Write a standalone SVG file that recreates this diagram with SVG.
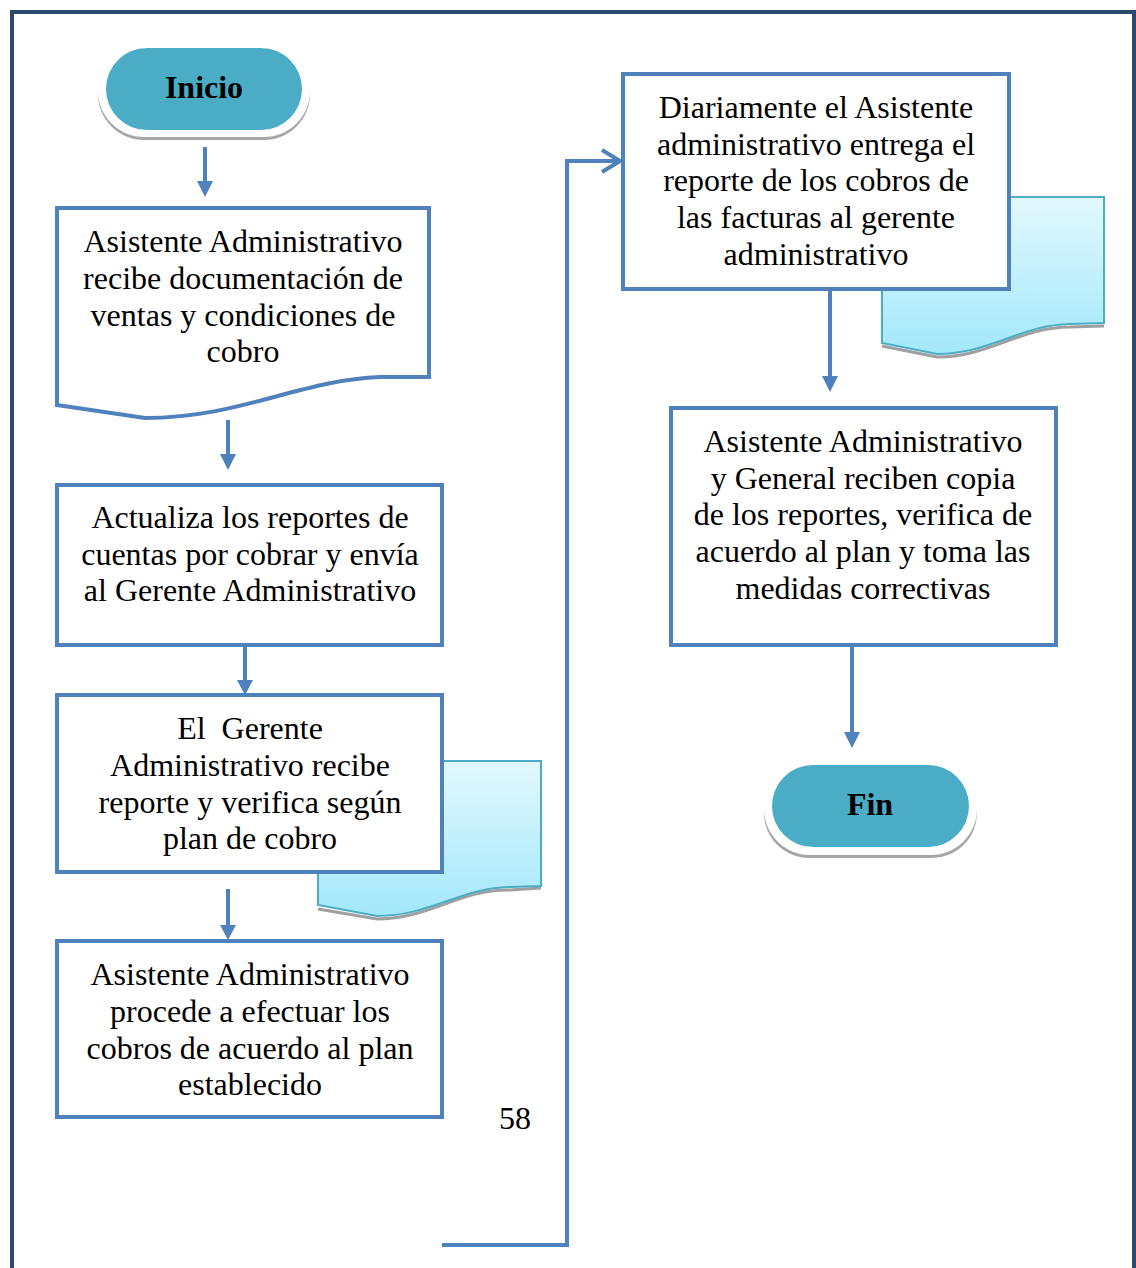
<svg xmlns="http://www.w3.org/2000/svg" width="1136" height="1268" viewBox="0 0 1136 1268">
<defs>
<style>
.t{font-family:"Liberation Serif","Times New Roman",serif;font-size:32px;fill:#000;text-anchor:middle}
.tb{font-family:"Liberation Serif","Times New Roman",serif;font-size:32px;font-weight:bold;fill:#000;text-anchor:middle}
.box{fill:#fff;stroke:#4f81bd;stroke-width:4}
.doc{fill:url(#cyan);stroke:#4bacc6;stroke-width:2}
.docsh{fill:none;stroke:#a0a0a0;stroke-width:3}
.ln{fill:none;stroke:#4f81bd;stroke-width:4}
.ah{fill:#4f81bd}
.term{fill:#4bacc6}
</style>
<linearGradient id="cyan" x1="0" y1="0" x2="0" y2="1">
<stop offset="0" stop-color="#e2f8fd"/>
<stop offset="1" stop-color="#a3e8fb"/>
</linearGradient>
</defs>
<rect x="12" y="12" width="1122" height="1300" fill="none" stroke="#2b4a6b" stroke-width="4"/>

<g id="inicio">
<rect x="98" y="48" width="212" height="92" rx="46" fill="#a6a6a6"/>
<rect x="98" y="44" width="212" height="93" rx="46" fill="#fff"/>
<rect x="106" y="48" width="196" height="82" rx="41" class="term"/>
<text x="204" y="98" class="tb">Inicio</text>
</g>

<g id="n1">
<path class="box" d="M57,208 L429,208 L429,377 L380,377 C300,380 240,418 145,418 L57,405 Z"/>
<text x="243" y="252" class="t">Asistente Administrativo</text>
<text x="243" y="289" class="t">recibe documentación de</text>
<text x="243" y="326" class="t">ventas y condiciones de</text>
<text x="243" y="362" class="t">cobro</text>
</g>

<g id="n2">
<rect class="box" x="57" y="485" width="385" height="160"/>
<text x="250" y="528" class="t">Actualiza los reportes de</text>
<text x="250" y="565" class="t">cuentas por cobrar y envía</text>
<text x="250" y="601" class="t">al Gerente Administrativo</text>
</g>

<g id="doc3">
<path class="docsh" d="M318,909 L377,919 C430,919 460,889 510,890 L541,888"/>
<path class="doc" d="M318,761 L541,761 L541,886 L510,887 C460,888 430,916 377,916 L318,905 Z"/>
</g>
<g id="n3">
<rect class="box" x="57" y="695" width="385" height="177"/>
<text x="250" y="739" class="t" xml:space="preserve">El  Gerente</text>
<text x="250" y="776" class="t">Administrativo recibe</text>
<text x="250" y="813" class="t">reporte y verifica según</text>
<text x="250" y="849" class="t">plan de cobro</text>
</g>

<g id="n4">
<rect class="box" x="57" y="941" width="385" height="176"/>
<text x="250" y="985" class="t">Asistente Administrativo</text>
<text x="250" y="1022" class="t">procede a efectuar los</text>
<text x="250" y="1059" class="t">cobros de acuerdo al plan</text>
<text x="250" y="1095" class="t">establecido</text>
</g>

<text x="515" y="1129" class="t">58</text>

<g id="doc5">
<path class="docsh" d="M882,346 L937,357 C990,357 1020,327 1070,327 L1104,326"/>
<path class="doc" d="M882,197 L1104,197 L1104,323 L1070,324 C1020,325 990,354 937,354 L882,343 Z"/>
</g>
<g id="n5">
<rect class="box" x="623" y="74" width="386" height="215"/>
<text x="816" y="118" class="t">Diariamente el Asistente</text>
<text x="816" y="155" class="t">administrativo entrega el</text>
<text x="816" y="191" class="t">reporte de los cobros de</text>
<text x="816" y="228" class="t">las facturas al gerente</text>
<text x="816" y="265" class="t">administrativo</text>
</g>

<g id="n6">
<rect class="box" x="671" y="408" width="385" height="237"/>
<text x="863" y="452" class="t">Asistente Administrativo</text>
<text x="863" y="489" class="t">y General reciben copia</text>
<text x="863" y="525" class="t">de los reportes, verifica de</text>
<text x="863" y="562" class="t">acuerdo al plan y toma las</text>
<text x="863" y="599" class="t">medidas correctivas</text>
</g>

<g id="fin">
<rect x="764" y="768" width="213" height="90" rx="45" fill="#a6a6a6"/>
<rect x="764" y="762" width="213" height="93" rx="46" fill="#fff"/>
<rect x="772" y="765" width="197" height="82" rx="41" class="term"/>
<text x="870" y="815" class="tb">Fin</text>
</g>

<g id="connectors">
<line class="ln" x1="205" y1="147" x2="205" y2="182"/>
<path class="ah" d="M197,181 L213,181 L205,197 Z"/>
<line class="ln" x1="228" y1="420" x2="228" y2="455"/>
<path class="ah" d="M220,454 L236,454 L228,470 Z"/>
<line class="ln" x1="245" y1="645" x2="245" y2="681"/>
<path class="ah" d="M237,680 L253,680 L245,695 Z"/>
<line class="ln" x1="228" y1="889" x2="228" y2="926"/>
<path class="ah" d="M220,925 L236,925 L228,940 Z"/>
<polyline class="ln" points="442,1245 567,1245 567,161 620,161"/>
<polyline class="ln" points="602,150 620,161 602,172"/>
<line class="ln" x1="830" y1="289" x2="830" y2="377"/>
<path class="ah" d="M822,376 L838,376 L830,392 Z"/>
<line class="ln" x1="852" y1="645" x2="852" y2="733"/>
<path class="ah" d="M844,732 L860,732 L852,748 Z"/>
</g>
</svg>
